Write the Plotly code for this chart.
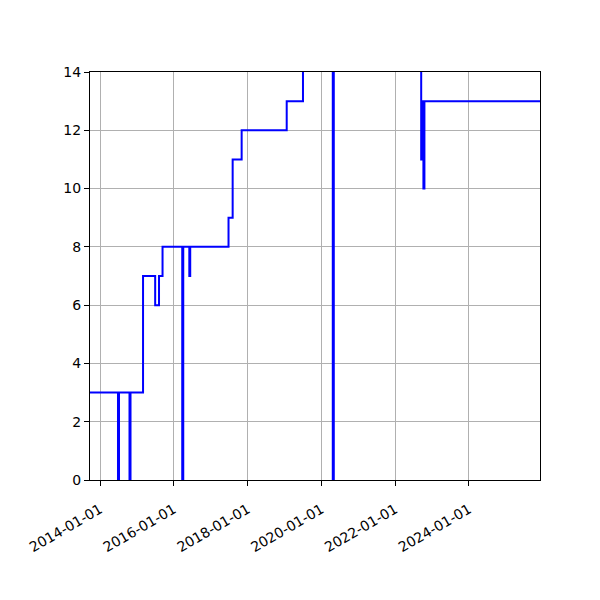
import plotly.graph_objects as go

dates = [
    "2013-06-01", "2014-06-28", "2014-07-08", "2014-10-20", "2014-10-30",
    "2015-03-03", "2015-07-01", "2015-08-08", "2015-09-12",
    "2016-03-25", "2016-04-04", "2016-06-03", "2016-06-12",
    "2017-06-26", "2017-08-06", "2017-11-03",
    "2019-01-23", "2019-07-03", "2020-04-23", "2020-05-03",
    "2022-09-15", "2022-09-27", "2022-10-07", "2022-10-17", "2025-12-31",
]
values = [
    3, 0, 3, 0, 3,
    7, 6, 7, 8,
    0, 8, 7, 8,
    9, 11, 12,
    13, 15, 0, 15,
    11, 13, 10, 13, 13,
]

x_range = ["2013-09-24", "2025-12-04"]
y_range = [0, 14]
y_ticks = [0, 2, 4, 6, 8, 10, 12, 14]

fig = go.Figure()
fig.add_trace(go.Scatter(
    x=dates, y=values, mode="lines", line_shape="hv",
    line=dict(color="#0000ff", width=2), showlegend=False,
))

axis_common = dict(
    showline=True, linecolor="black", linewidth=1, mirror=True,
    showgrid=True, gridcolor="#b0b0b0", gridwidth=1,
    ticks="outside", ticklen=5, tickwidth=1, tickcolor="black",
    zeroline=False, tickfont=dict(family="DejaVu Sans", size=14, color="black"),
)

fig.update_xaxes(
    type="date", range=x_range, tick0="2014-01-01", dtick="M24",
    tickformat="%Y-%m-%d", tickangle=-30, ticklabelstandoff=10, **axis_common,
)
fig.update_yaxes(range=y_range, tickvals=y_ticks, **axis_common)

fig.update_layout(
    width=600, height=600,
    margin=dict(l=82, r=68, t=64, b=128),
    plot_bgcolor="white", paper_bgcolor="white",
    font=dict(family="DejaVu Sans", size=14, color="black"),
)

fig.write_html("out.html")
